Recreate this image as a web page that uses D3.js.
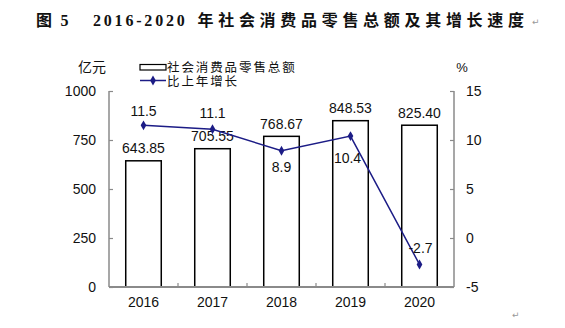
<!DOCTYPE html>
<html>
<head>
<meta charset="utf-8">
<script src="https://cdn.jsdelivr.net/npm/d3@7"></script>
<style>
  html, body { margin: 0; padding: 0; background: #fff; }
  svg { display: block; }
  .num { font-family: "Liberation Sans", Arial, sans-serif; font-size: 14px; fill: #111; }
  .cjk { font-family: "Noto Sans CJK SC", sans-serif; fill: #111; }
</style>
</head>
<body>
<svg id="chart" width="565" height="328"></svg>
<script>
// Retail sales of consumer goods, 2016-2020
const years = ["2016", "2017", "2018", "2019", "2020"];
const salesValues = [643.85, 705.55, 768.67, 848.53, 825.40];   // 亿元
const growthValues = [11.5, 11.1, 8.9, 10.4, -2.7];            // %
const leftTicks = [0, 250, 500, 750, 1000];
const rightTicks = [-5, 0, 5, 10, 15];
const salesName = "社会消费品零售总额";
const growthName = "比上年增长";

const svg = d3.select("#chart");
const plot = { left: 109, right: 454, top: 91, bottom: 287 };

const x = d3.scaleBand()
  .domain(years)
  .range([plot.left, plot.right])
  .paddingInner(0.485)
  .paddingOuter(0.2425);
const yL = d3.scaleLinear().domain([0, 1000]).range([plot.bottom, plot.top]);
const yR = d3.scaleLinear().domain([-5, 15]).range([plot.bottom, plot.top]);

// Title
const title = svg.append("text")
  .attr("y", 25.5)
  .style("font-size", "16px")
  .style("font-weight", "bold")
  .attr("fill", "#111");
title.append("tspan").attr("x", 36).style("font-family", "'Noto Sans CJK SC', serif").text("图");
title.append("tspan").attr("x", 60.5).style("font-family", "'Liberation Serif', serif").text("5");
title.append("tspan").attr("x", 93).style("font-family", "'Liberation Serif', serif")
  .style("letter-spacing", "2.8px").text("2016-2020");
title.append("tspan").attr("x", 197.5).style("font-family", "'Noto Sans CJK SC', serif")
  .style("letter-spacing", "4.7px").text("年社会消费品零售总额及其增长速度");
svg.append("text").attr("x", 532).attr("y", 25).attr("fill", "#999")
  .style("font-family", "'DejaVu Sans', sans-serif").style("font-size", "9px").text("↵");
svg.append("text").attr("x", 512).attr("y", 318).attr("fill", "#999")
  .style("font-family", "'DejaVu Sans', sans-serif").style("font-size", "9px").text("↵");

// Bars
svg.append("g").selectAll("rect")
  .data(years.map((yr, i) => ({ yr, v: salesValues[i] })))
  .join("rect")
  .attr("x", d => x(d.yr))
  .attr("y", d => yL(d.v))
  .attr("width", x.bandwidth())
  .attr("height", d => yL(0) - yL(d.v))
  .attr("fill", "#fff")
  .attr("stroke", "#000")
  .attr("stroke-width", 1.5);

// Axes
const axisColor = "#8a8a8a";
const leftAxis = svg.append("g")
  .attr("transform", `translate(${plot.left},0)`)
  .call(d3.axisRight(yL).tickValues(leftTicks).tickSize(4).tickFormat(d3.format("d")));
leftAxis.selectAll("text").remove();
const rightAxis = svg.append("g")
  .attr("transform", `translate(${plot.right},0)`)
  .call(d3.axisLeft(yR).tickValues(rightTicks).tickSize(4).tickFormat(d3.format("d")));
rightAxis.selectAll("text").remove();
[leftAxis, rightAxis].forEach(g => {
  g.select(".domain").attr("d", `M0,${plot.top}V${plot.bottom}`).attr("stroke", axisColor).attr("stroke-width", 1.5);
  g.selectAll(".tick line").attr("stroke", axisColor).attr("stroke-width", 1.2);
});

// Tick labels
svg.append("g").selectAll("text")
  .data(leftTicks).join("text")
  .attr("class", "num")
  .attr("x", 96).attr("y", d => yL(d) + 5)
  .attr("text-anchor", "end")
  .text(d => d);
svg.append("g").selectAll("text")
  .data(rightTicks).join("text")
  .attr("class", "num")
  .attr("x", 466).attr("y", d => yR(d) + 5)
  .text(d => d);

// Category axis
const bottomAxis = svg.append("g")
  .attr("transform", `translate(0,${plot.bottom})`)
  .call(d3.axisBottom(x).tickSize(0).tickPadding(10));
bottomAxis.select(".domain").attr("stroke", axisColor).attr("stroke-width", 2)
  .attr("d", `M${plot.left},0H${plot.right}`);
bottomAxis.selectAll("text")
  .attr("class", "num")
  .attr("font-family", null).attr("font-size", null);
// Inner tick marks between categories
svg.append("g").selectAll("line")
  .data(years.slice(1)).join("line")
  .attr("x1", d => x(d) - x.step() * x.paddingInner() / 2)
  .attr("x2", d => x(d) - x.step() * x.paddingInner() / 2)
  .attr("y1", plot.bottom - 4).attr("y2", plot.bottom)
  .attr("stroke", axisColor).attr("stroke-width", 1.2);

// Bar value labels
svg.append("g").selectAll("text")
  .data(years.map((yr, i) => ({ yr, v: salesValues[i] })))
  .join("text")
  .attr("class", "num")
  .attr("x", d => x(d.yr) + x.bandwidth() / 2)
  .attr("y", d => yL(d.v) - 7.5)
  .attr("text-anchor", "middle")
  .text(d => d3.format(".2f")(d.v));

// Growth line
const lineColor = "#1c1c86";
const pts = years.map((yr, i) => ({ yr, v: growthValues[i], cx: x(yr) + x.bandwidth() / 2 }));
svg.append("path")
  .datum(pts)
  .attr("d", d3.line().x(d => d.cx).y(d => yR(d.v)))
  .attr("fill", "none")
  .attr("stroke", lineColor)
  .attr("stroke-width", 1.5);
const diamond = d3.symbol().type(d3.symbolDiamond).size(28);
svg.append("g").selectAll("path")
  .data(pts).join("path")
  .attr("transform", d => `translate(${d.cx},${yR(d.v)})`)
  .attr("d", diamond)
  .attr("fill", lineColor);

// Growth labels: above the point except where the line dips
const labelShift = [[0, -14.5], [0, -16], [0, 16], [-3, 22], [1, -16]];
svg.append("g").selectAll("text")
  .data(pts).join("text")
  .attr("class", "num")
  .attr("x", (d, i) => d.cx + labelShift[i][0])
  .attr("y", (d, i) => yR(d.v) + labelShift[i][1] + 5)
  .attr("text-anchor", "middle")
  .text(d => d.v);

// Unit labels
svg.append("text").attr("class", "cjk").attr("x", 92).attr("y", 72)
  .attr("text-anchor", "middle").style("font-size", "14px").text("亿元");
svg.append("text").attr("class", "num").attr("x", 462).attr("y", 72)
  .attr("text-anchor", "middle").style("font-size", "13px").text("%");

// Legend
const legend = svg.append("g");
legend.append("rect").attr("x", 140).attr("y", 64.5).attr("width", 26).attr("height", 5.5)
  .attr("fill", "#fff").attr("stroke", "#000").attr("stroke-width", 1.2);
legend.append("text").attr("class", "cjk").attr("x", 167).attr("y", 71.5)
  .style("font-size", "12.5px").style("letter-spacing", "1.9px").text(salesName);
legend.append("line").attr("x1", 140).attr("x2", 166).attr("y1", 80.5).attr("y2", 80.5)
  .attr("stroke", lineColor).attr("stroke-width", 1.5);
legend.append("path").attr("transform", "translate(153,80.5)").attr("d", diamond).attr("fill", lineColor);
legend.append("text").attr("class", "cjk").attr("x", 167).attr("y", 86)
  .style("font-size", "12.5px").style("letter-spacing", "1.9px").text(growthName);
</script>
</body>
</html>
